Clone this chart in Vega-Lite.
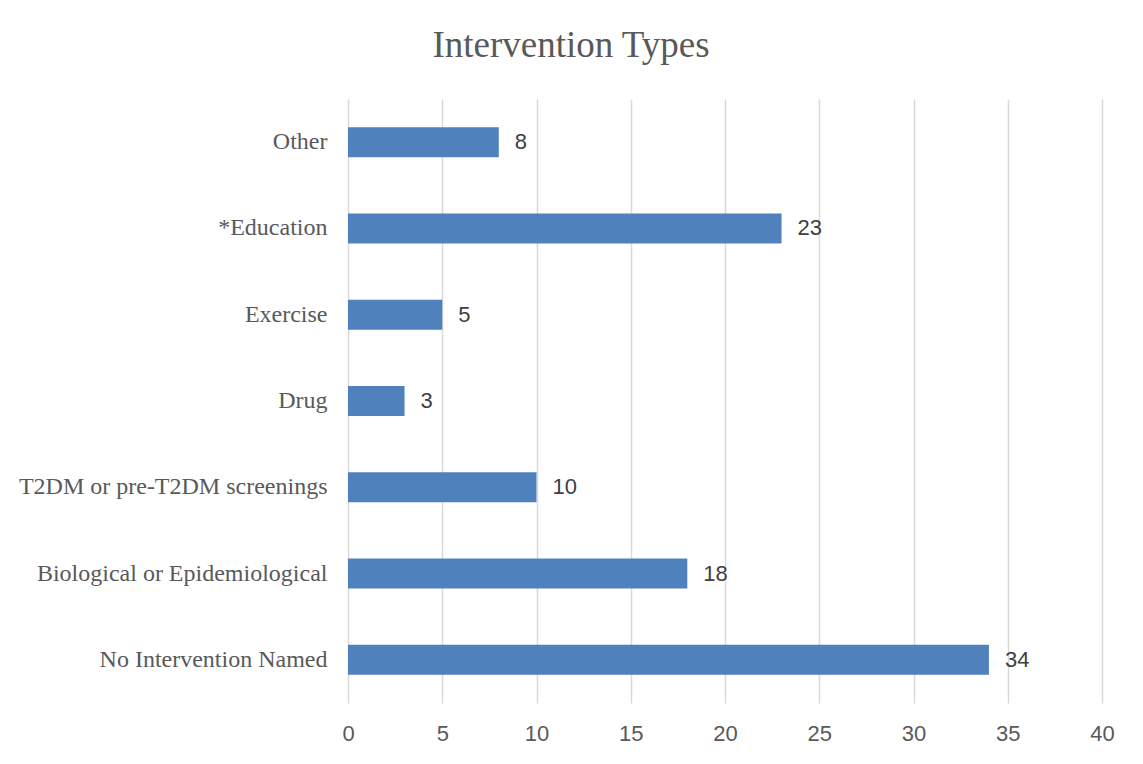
{
  "$schema": "https://vega.github.io/schema/vega-lite/v6.json",
  "autosize": {"type": "none"},
  "padding": {"left": 348, "top": 99, "right": 41, "bottom": 61},
  "width": 754,
  "height": 604,
  "background": "#ffffff",
  "title": {
    "text": "Intervention Types",
    "font": "Liberation Serif",
    "fontSize": 37,
    "fontWeight": "normal",
    "color": "#595959",
    "anchor": "middle",
    "baseline": "alphabetic",
    "offset": 5,
    "dx": -154
  },
  "data": {
    "values": [
      {"type": "Other\u00a0\u00a0", "count": 8},
      {"type": "*Education", "count": 23},
      {"type": "Exercise", "count": 5},
      {"type": "Drug", "count": 3},
      {"type": "T2DM or pre-T2DM screenings", "count": 10},
      {"type": "Biological or Epidemiological", "count": 18},
      {"type": "No Intervention Named", "count": 34}
    ]
  },
  "encoding": {
    "y": {
      "field": "type",
      "type": "nominal",
      "sort": null,
      "scale": {"paddingInner": 0.652, "paddingOuter": 0.326},
      "axis": {
        "title": null,
        "domain": false,
        "ticks": false,
        "grid": false,
        "labelFont": "Liberation Serif",
        "labelFontSize": 24,
        "labelColor": "#595959",
        "labelPadding": 21,
        "labelLimit": 400
      }
    },
    "x": {
      "field": "count",
      "type": "quantitative",
      "scale": {"domain": [0, 40], "nice": false},
      "axis": {
        "title": null,
        "values": [0, 5, 10, 15, 20, 25, 30, 35, 40],
        "domain": false,
        "ticks": false,
        "grid": true,
        "gridColor": "#d9d9d9",
        "gridWidth": 1.5,
        "labelFlush": false,
        "labelFont": "Liberation Sans",
        "labelFontSize": 22,
        "labelColor": "#595959",
        "labelPadding": 20
      }
    }
  },
  "layer": [
    {"mark": {"type": "bar", "color": "#4f81bd"}},
    {
      "mark": {
        "type": "text",
        "align": "left",
        "baseline": "middle",
        "dx": 16,
        "font": "Liberation Sans",
        "fontSize": 22,
        "color": "#404040"
      },
      "encoding": {"text": {"field": "count", "type": "quantitative"}}
    }
  ],
  "config": {"view": {"stroke": null}}
}
